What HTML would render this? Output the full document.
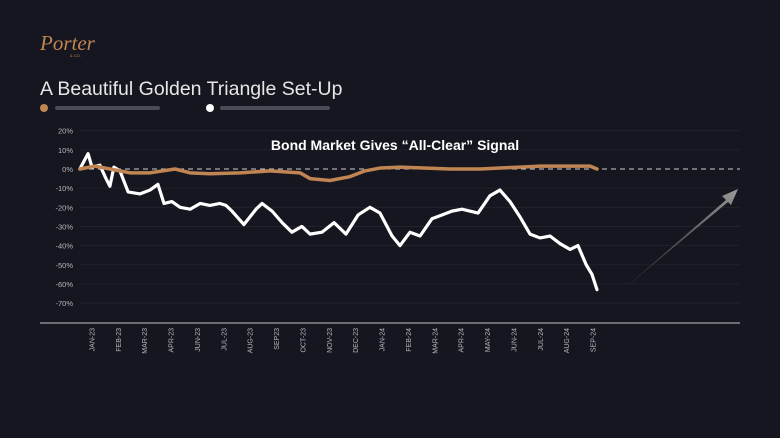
<!DOCTYPE html>
<html><head><meta charset="utf-8">
<style>
body{margin:0;background:#15161f;width:780px;height:438px;overflow:hidden;font-family:"Liberation Sans",sans-serif;}
svg{display:block}
</style></head>
<body>
<svg id="c" width="780" height="438">
<defs>
<linearGradient id="ag" x1="0" y1="1" x2="1" y2="0"><stop offset="0" stop-color="#555" stop-opacity="0.3"/><stop offset="1" stop-color="#9a9a9a"/></linearGradient>
</defs>
<text x="40" y="50" fill="#c08552" font-family="Liberation Serif,serif" font-style="italic" font-size="21">Porter</text>
<text x="70" y="57" fill="#c08552" font-size="4">&amp; CO.</text>
<text x="40" y="95" fill="#e6e6e6" font-size="19.5">A Beautiful Golden Triangle Set-Up</text>
<g>
<circle cx="44" cy="108" r="4" fill="#c08552"/>
<rect x="55" y="106" width="105" height="4" rx="2" fill="#4a4b55"/>
<circle cx="210" cy="108" r="4" fill="#ffffff"/>
<rect x="220" y="106" width="110" height="4" rx="2" fill="#4a4b55"/>
</g>
<g id="grid"></g>
<g id="ylab"></g>
<g id="xlab"></g>
<line x1="40" y1="323" x2="740" y2="323" stroke="#8a8a90" stroke-width="1.5"/>
<g id="series"></g>
<text x="395" y="150" fill="#ffffff" font-weight="bold" font-size="14" text-anchor="middle">Bond Market Gives “All-Clear” Signal</text>
<polygon points="620,292 726,200 722,196 738,189 731,205 728,202" fill="url(#ag)"/>
</svg>
<script>
const yTicks=[20,10,0,-10,-20,-30,-40,-50,-60,-70];
const months=["JAN-23","FEB-23","MAR-23","APR-23","JUN-23","JUL-23","AUG-23","SEP23","OCT-23","NOV-23","DEC-23","JAN-24","FEB-24","MAR-24","APR-24","MAY-24","JUN-24","JUL-24","AUG-24","SEP-24"];
const shareT=[-0.46,-0.15,0,0.30,0.53,0.68,0.83,1.06,1.37,1.82,2.20,2.50,2.73,3.03,3.34,3.72,4.10,4.47,4.85,5.08,5.31,5.76,6.22,6.45,6.83,7.21,7.58,7.96,8.27,8.72,9.18,9.63,10.09,10.54,10.92,11.38,11.68,12.06,12.44,12.89,13.27,13.65,14.03,14.64,15.09,15.47,15.85,16.23,16.61,16.99,17.37,17.75,18.13,18.43,18.74,18.96,19.15];
const shareV=[0,8,1,2,-5,-9,1,-1,-12,-13,-11,-8,-18,-17,-20,-21,-18,-19,-18,-19,-22,-29,-21,-18,-22,-28,-33,-30,-34,-33,-28,-34,-24,-20,-23,-35,-40,-33,-35,-26,-24,-22,-21,-23,-14,-11,-17,-25,-34,-36,-35,-39,-42,-40,-50,-55,-63];
const bondT=[-0.46,0.11,0.68,1.44,2.20,3.15,3.72,4.47,5.61,6.75,7.89,8.27,9.02,9.78,10.35,10.92,11.68,13.58,14.72,15.47,16.23,16.99,18.89,19.15];
const bondV=[0,1.5,0,-2,-2,0,-2,-2.5,-2,-1,-2,-5,-6,-4,-1,0.5,1,0,0,0.5,1,1.5,1.5,0];
const NS="http://www.w3.org/2000/svg";
const X=t=>92+t*26.37, Y=v=>169-v*1.915;
function mk(tag,attrs,parent){const e=document.createElementNS(NS,tag);for(const k in attrs)e.setAttribute(k,attrs[k]);document.getElementById(parent).appendChild(e);return e;}
yTicks.forEach(v=>{
 const l=mk('line',{x1:80,x2:740,y1:Y(v),y2:Y(v),stroke:v===0?'#cfcfcf':'#23252f','stroke-width':v===0?1:0.8,'stroke-dasharray':v===0?'5,4':''},'grid');
 
 
 const t=mk('text',{x:73,y:Y(v)+3,fill:'#b8b8bc','font-size':7.5,'text-anchor':'end'},'ylab');
 t.textContent=v+'%';
 
 
});
months.forEach((m,i)=>{
 const x=X(i);
 const t=mk('text',{x:0,y:0,fill:'#b8b8bc','font-size':7,'text-anchor':'end',transform:`translate(${x+2.5},328) rotate(-90)`},'xlab');
 t.textContent=m;
 
 
});
const sp=mk('polyline',{points:shareT.map((t,i)=>X(t)+','+Y(shareV[i])).join(' '),fill:'none',stroke:'#ffffff','stroke-width':3.2,'stroke-linejoin':'round','stroke-linecap':'round'},'series');


const bp=mk('polyline',{points:bondT.map((t,i)=>X(t)+','+Y(bondV[i])).join(' '),fill:'none',stroke:'#c08552','stroke-width':3.5,'stroke-linejoin':'round','stroke-linecap':'round'},'series');


</script>
</body></html>
